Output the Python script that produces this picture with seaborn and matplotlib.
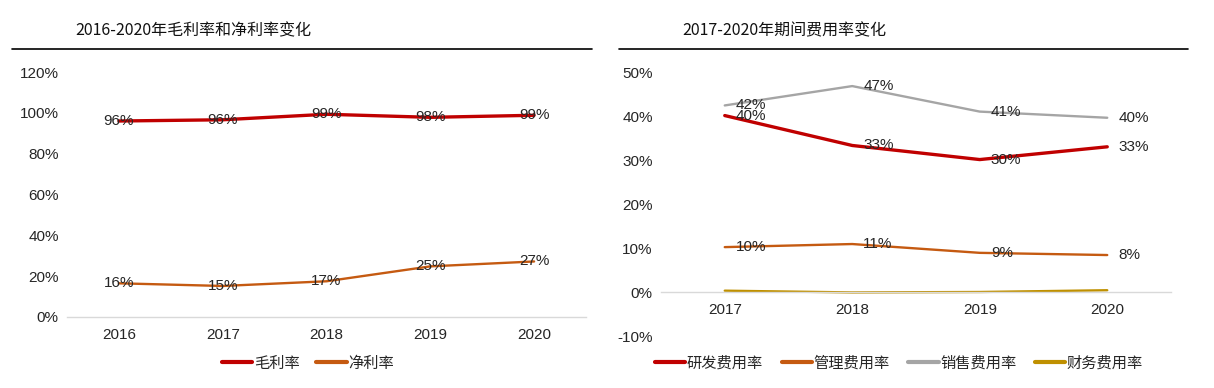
import matplotlib
matplotlib.use("Agg")
import matplotlib.pyplot as plt
import seaborn as sns
import pandas as pd
from matplotlib.lines import Line2D
from matplotlib.ticker import FuncFormatter
from matplotlib.transforms import offset_copy

sns.set_theme(style="white")
plt.rcParams['font.family'] = ['Liberation Sans Narrow', 'Liberation Sans', 'Noto Sans CJK SC', 'DejaVu Sans']

# ---------------- data ----------------
years_left = ["2016", "2017", "2018", "2019", "2020"]
gross_margin = [96.0, 96.6, 99.3, 97.8, 98.8]
net_margin = [16.5, 15.2, 17.5, 24.8, 27.2]
gross_labels = ["96%", "96%", "99%", "98%", "99%"]
net_labels = ["16%", "15%", "17%", "25%", "27%"]

years_right = ["2017", "2018", "2019", "2020"]
rd_rate = [40.1, 33.3, 30.1, 33.0]
admin_rate = [10.2, 10.9, 8.9, 8.4]
sales_rate = [42.4, 46.8, 41.0, 39.6]
fin_rate = [0.3, -0.1, 0.0, 0.4]
rd_labels = ["40%", "33%", "30%", "33%"]
admin_labels = ["10%", "11%", "9%", "8%"]
sales_labels = ["42%", "47%", "41%", "40%"]

left_title = "2016-2020年毛利率和净利率变化"
right_title = "2017-2020年期间费用率变化"
left_names = ["毛利率", "净利率"]
right_names = ["研发费用率", "管理费用率", "销售费用率", "财务费用率"]

C_RED = "#C00000"
C_ORANGE = "#C55A11"
C_GRAY = "#A5A5A5"
C_GOLD = "#BF9000"
TXT = "#262626"
CJK = ['Noto Sans CJK SC', 'DejaVu Sans']

W, H = 1214, 388
fig = plt.figure(figsize=(W / 100, H / 100), dpi=100)

def ax_rect(x0, x1, ytop, ybot):
    return [x0 / W, 1 - ybot / H, (x1 - x0) / W, (ybot - ytop) / H]

axL = fig.add_axes(ax_rect(67, 586, 72, 317))
axR = fig.add_axes(ax_rect(661, 1171, 72, 336))

pct = FuncFormatter(lambda v, p: f"{v:.0f}%")

# ---------------- left panel ----------------
dfL = pd.DataFrame({"x": range(len(years_left)), "g": gross_margin, "n": net_margin})
sns.lineplot(data=dfL, x="x", y="g", ax=axL, color=C_RED, linewidth=2.4)
sns.lineplot(data=dfL, x="x", y="n", ax=axL, color=C_ORANGE, linewidth=1.7)
for i in range(len(years_left)):
    axL.text(i, gross_margin[i], gross_labels[i], ha="center", va="center", fontsize=11, color=TXT)
    axL.text(i, net_margin[i], net_labels[i], ha="center", va="center", fontsize=11, color=TXT)
axL.set_xlim(-0.5, len(years_left) - 0.5)
axL.set_ylim(0, 120)
axL.set_yticks(range(0, 121, 20))
axL.yaxis.set_major_formatter(pct)
axL.set_xticks(range(len(years_left)))
axL.set_xticklabels(years_left)

# ---------------- right panel ----------------
dfR = pd.DataFrame({"x": range(len(years_right)), "rd": rd_rate, "ad": admin_rate,
                    "sa": sales_rate, "fi": fin_rate})
sns.lineplot(data=dfR, x="x", y="sa", ax=axR, color=C_GRAY, linewidth=1.7)
sns.lineplot(data=dfR, x="x", y="ad", ax=axR, color=C_ORANGE, linewidth=1.7)
sns.lineplot(data=dfR, x="x", y="fi", ax=axR, color=C_GOLD, linewidth=1.7)
sns.lineplot(data=dfR, x="x", y="rd", ax=axR, color=C_RED, linewidth=2.4)
off = offset_copy(axR.transData, fig=fig, x=11, y=0, units="dots")
for i in range(len(years_right)):
    axR.text(i, rd_rate[i], rd_labels[i], ha="left", va="center", fontsize=11, color=TXT, transform=off)
    axR.text(i, admin_rate[i], admin_labels[i], ha="left", va="center", fontsize=11, color=TXT, transform=off)
    axR.text(i, sales_rate[i], sales_labels[i], ha="left", va="center", fontsize=11, color=TXT, transform=off)
axR.set_xlim(-0.5, len(years_right) - 0.5)
axR.set_ylim(-10, 50)
axR.set_yticks(range(-10, 51, 10))
axR.yaxis.set_major_formatter(pct)
axR.set_xticks(range(len(years_right)))
axR.set_xticklabels(years_right)

for ax in (axL, axR):
    ax.set_xlabel("")
    ax.set_ylabel("")
    for s in ("top", "right", "left"):
        ax.spines[s].set_visible(False)
    ax.spines["bottom"].set_position(("data", 0))
    ax.spines["bottom"].set_color("#D9D9D9")
    ax.spines["bottom"].set_linewidth(1.0)
    ax.tick_params(axis="both", length=0, labelsize=11, labelcolor=TXT)
    ax.tick_params(axis="x", pad=8)
    ax.tick_params(axis="y", pad=6)
    ax.grid(False)
    ax.set_facecolor("none")

# ---------------- titles & rules ----------------
fig.text(75 / W, 1 - 31 / H, left_title, fontsize=11.5, color="#111111", va="center", ha="left",
         family=CJK, fontweight="medium")
fig.text(682 / W, 1 - 31 / H, right_title, fontsize=11.5, color="#111111", va="center", ha="left",
         family=CJK, fontweight="medium")
fig.add_artist(Line2D([12 / W, 592 / W], [1 - 49 / H] * 2, color="black", linewidth=1.2))
fig.add_artist(Line2D([619 / W, 1188 / W], [1 - 49 / H] * 2, color="black", linewidth=1.2))

# ---------------- legends ----------------
hL = [Line2D([], [], color=C_RED, linewidth=3.0), Line2D([], [], color=C_ORANGE, linewidth=3.0)]
legL = fig.legend(hL, left_names, loc="center", bbox_to_anchor=(308 / W, 1 - 363 / H), ncol=2,
                  frameon=False, handlelength=2.0, handletextpad=0.1, columnspacing=1.1,
                  prop={"family": CJK, "size": 11})
hR = [Line2D([], [], color=c, linewidth=3.0) for c in (C_RED, C_ORANGE, C_GRAY, C_GOLD)]
legR = fig.legend(hR, right_names, loc="center", bbox_to_anchor=(899 / W, 1 - 363 / H), ncol=4,
                  frameon=False, handlelength=2.0, handletextpad=0.1, columnspacing=1.2,
                  prop={"family": CJK, "size": 11})
for leg in (legL, legR):
    for t in leg.get_texts():
        t.set_color(TXT)

fig.savefig("out.png", dpi=100, facecolor="white")
